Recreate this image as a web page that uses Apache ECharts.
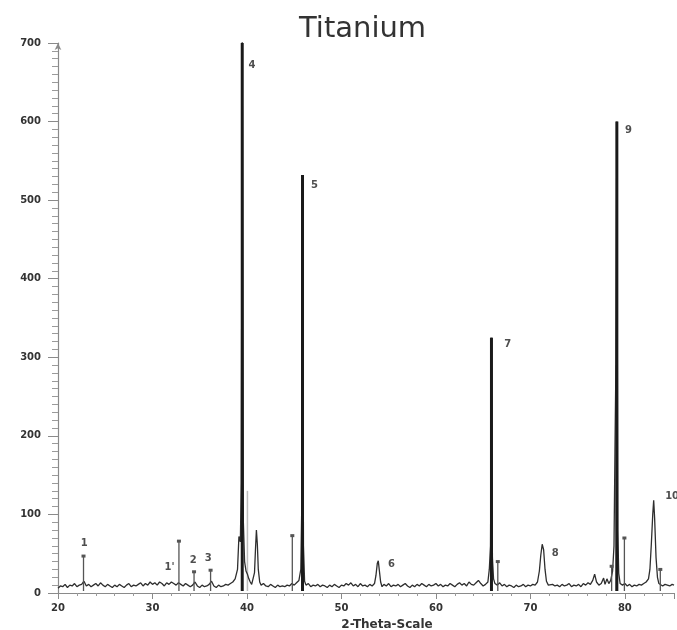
<!DOCTYPE html>
<html>
<head>
<meta charset="utf-8">
<script src="https://cdn.jsdelivr.net/npm/echarts@6/dist/echarts.min.js"></script>
<style>html,body{margin:0;padding:0;background:#fff}#c{width:677px;height:630px}</style>
</head>
<body>
<div id="c"></div>
<script>
// ---- data ----
const chartTitle = 'Titanium';
const xName = '2-Theta-Scale';
const xTicks = [20, 30, 40, 50, 60, 70, 80];
const yTicks = [0, 100, 200, 300, 400, 500, 600, 700];

// measured pattern: [2-theta, counts]
const pattern = [
[20.00,6],[20.25,9],[20.50,8],[20.75,11],[21.00,7],[21.25,10],[21.50,9],[21.75,12],[22.00,8],[22.25,10],
[22.50,11],[22.75,15],[23.00,9],[23.25,11],[23.50,8],[23.75,10],[24.00,12],[24.25,9],[24.50,13],[24.75,10],
[25.00,8],[25.25,11],[25.50,9],[25.75,7],[26.00,10],[26.25,8],[26.50,11],[26.75,9],[27.00,7],[27.25,10],
[27.50,12],[27.75,8],[28.00,10],[28.25,9],[28.50,11],[28.75,13],[29.00,9],[29.25,12],[29.50,10],[29.75,14],
[30.00,11],[30.25,13],[30.50,10],[30.75,14],[31.00,12],[31.25,9],[31.50,13],[31.75,11],[32.00,14],[32.25,12],
[32.50,10],[32.75,13],[33.00,11],[33.25,9],[33.50,12],[33.75,10],[34.00,8],[34.25,10],[34.50,14],[34.75,9],
[35.00,7],[35.25,10],[35.50,8],[35.75,9],[36.00,11],[36.25,15],[36.50,9],[36.75,7],[37.00,10],[37.25,8],
[37.50,9],[37.75,11],[38.00,10],[38.25,12],[38.50,14],[38.75,18],[39.00,30],[39.15,72],[39.30,65],[39.40,140],
[39.50,705],[39.62,90],[39.75,40],[39.90,28],[40.05,24],[40.20,18],[40.35,14],[40.50,11],[40.65,12],[40.80,26],
[40.90,55],[41.00,80],[41.10,62],[41.20,30],[41.35,14],[41.50,10],[41.75,12],[42.00,9],[42.25,8],[42.50,11],
[42.75,9],[43.00,7],[43.25,10],[43.50,8],[43.75,9],[44.00,8],[44.25,10],[44.50,9],[44.75,12],[45.00,10],
[45.25,13],[45.50,16],[45.70,30],[45.80,110],[45.88,532],[45.98,60],[46.10,15],[46.25,10],[46.50,12],[46.75,8],
[47.00,10],[47.25,9],[47.50,11],[47.75,8],[48.00,10],[48.25,9],[48.50,7],[48.75,10],[49.00,8],[49.25,11],
[49.50,9],[49.75,7],[50.00,10],[50.25,9],[50.50,12],[50.75,10],[51.00,13],[51.25,9],[51.50,11],[51.75,8],
[52.00,12],[52.25,9],[52.50,10],[52.75,8],[53.00,11],[53.25,9],[53.50,12],[53.65,22],[53.80,38],[53.90,41],
[54.00,30],[54.15,14],[54.30,8],[54.50,11],[54.75,9],[55.00,12],[55.25,8],[55.50,10],[55.75,9],[56.00,11],
[56.25,8],[56.50,10],[56.75,12],[57.00,9],[57.25,7],[57.50,10],[57.75,8],[58.00,11],[58.25,9],[58.50,12],
[58.75,10],[59.00,8],[59.25,11],[59.50,9],[59.75,10],[60.00,12],[60.25,9],[60.50,11],[60.75,8],[61.00,10],
[61.25,9],[61.50,12],[61.75,10],[62.00,8],[62.25,11],[62.50,13],[62.75,10],[63.00,12],[63.25,9],[63.50,14],
[63.75,11],[64.00,10],[64.25,13],[64.50,16],[64.75,12],[65.00,9],[65.25,11],[65.50,14],[65.65,30],[65.78,60],
[65.88,325],[65.98,45],[66.10,18],[66.25,12],[66.50,10],[66.75,13],[67.00,9],[67.25,11],[67.50,8],[67.75,10],
[68.00,9],[68.25,7],[68.50,10],[68.75,8],[69.00,9],[69.25,11],[69.50,8],[69.75,10],[70.00,9],[70.25,11],
[70.50,10],[70.75,14],[70.95,28],[71.10,48],[71.25,62],[71.40,55],[71.55,30],[71.70,15],[71.90,10],[72.10,8],
[72.35,11],[72.60,9],[72.85,10],[73.10,8],[73.35,11],[73.60,9],[73.85,10],[74.10,12],[74.35,8],[74.60,10],
[74.85,9],[75.10,11],[75.35,8],[75.60,12],[75.85,10],[76.10,13],[76.35,11],[76.60,16],[76.80,24],[77.00,14],
[77.25,10],[77.50,12],[77.75,19],[77.90,11],[78.10,18],[78.30,12],[78.50,16],[78.70,28],[78.85,60],[78.95,180],
[79.05,290],[79.15,600],[79.25,80],[79.35,25],[79.50,12],[79.75,10],[80.00,12],[80.25,9],[80.50,11],[80.75,8],
[81.00,10],[81.25,9],[81.50,11],[81.75,10],[82.00,12],[82.25,14],[82.50,18],[82.65,30],[82.80,62],[82.95,100],
[83.05,118],[83.15,95],[83.30,45],[83.45,20],[83.60,12],[83.80,10],[84.00,9],[84.25,11],[84.50,10],[84.75,9],
[85.00,11],[85.20,10]
];

// strong reflections drawn as heavy sticks
const majorPeaks = [[39.5, 700], [45.88, 532], [65.88, 325], [79.15, 600]];
// reference (database) sticks
const refSticks = [[22.7, 47], [32.8, 66], [34.4, 27], [36.15, 29], [44.8, 73], [66.55, 40], [78.6, 34], [79.95, 70], [83.75, 30]];
const faintSticks = [[40.05, 130], [79.05, 290]];

// peak labels and the data point each sits at
const peakNames = ['1', "1'", '2', '3', '4', '5', '6', '7', '8', '9', '10'];
const peakLabelAt = [[22.78, 63], [31.8, 32], [34.31, 42], [35.9, 44], [40.54, 672], [47.14, 519], [55.3, 37], [67.6, 317], [72.64, 51], [80.37, 589], [85.0, 123]];

// ---- chart ----
const chart = echarts.init(document.getElementById('c'), null, {renderer: 'canvas'});
const FONT = '"DejaVu Sans", Verdana, sans-serif';

function stickRender(width, color, marker) {
  return function (params, api) {
    const top = api.coord([api.value(0), api.value(1)]);
    const bot = api.coord([api.value(0), 0]);
    const children = [{
      type: 'line',
      shape: {x1: top[0], y1: top[1], x2: bot[0], y2: bot[1] - 2},
      style: {stroke: color, lineWidth: width}
    }];
    if (marker) {
      children.push({type: 'rect', shape: {x: top[0] - 2, y: top[1] - 1.5, width: 4, height: 3}, style: {fill: color}});
    }
    return {type: 'group', children: children};
  };
}

const option = {
  animation: false,
  backgroundColor: '#fff',
  grid: {left: 58, right: 0, top: 43, bottom: 37, containLabel: false},
  xAxis: {
    type: 'value', min: 20, max: 85.2, interval: 10,
    axisLine: {show: true, lineStyle: {color: '#8a8a8a', width: 1.2}},
    axisTick: {show: true, length: 6, lineStyle: {color: '#8a8a8a'}},
    minorTick: {show: true, splitNumber: 5, length: 3, lineStyle: {color: '#9a9a9a'}},
    splitLine: {show: false},
    axisLabel: {
      margin: 10, color: '#333', fontFamily: FONT, fontWeight: 'bold', fontSize: 10,
      formatter: function (v) { return xTicks.indexOf(v) >= 0 ? String(v) : ''; }
    }
  },
  yAxis: {
    type: 'value', min: 0, max: 700, interval: 100,
    axisLine: {show: true, lineStyle: {color: '#8a8a8a', width: 1.2}, symbol: ['none', 'arrow'], symbolSize: [5, 7]},
    axisTick: {show: true, length: 10, lineStyle: {color: '#8a8a8a'}},
    minorTick: {show: true, splitNumber: 10, length: 6, lineStyle: {color: '#9a9a9a'}},
    splitLine: {show: false},
    axisLabel: {
      margin: 17, color: '#333', fontFamily: FONT, fontWeight: 'bold', fontSize: 10,
      formatter: function (v) { return yTicks.indexOf(v) >= 0 ? String(v) : ''; }
    }
  },
  graphic: [
    {type: 'text', left: 299, top: 15, style: {text: chartTitle, font: '29px ' + FONT, fill: '#333'}},
    {type: 'text', x: 387, y: 625, style: {text: xName, font: 'bold 12px ' + FONT, fill: '#333', textAlign: 'center', textVerticalAlign: 'middle'}}
  ],
  series: [
    {
      type: 'custom', name: 'faint', data: faintSticks, clip: true, z: 1,
      renderItem: stickRender(1.5, '#bdbdbd', false)
    },
    {
      type: 'line', name: 'pattern', data: pattern, showSymbol: false, symbol: 'none', clip: true, z: 2,
      lineStyle: {color: '#2e2e2e', width: 1.3}
    },
    {
      type: 'custom', name: 'ref', data: refSticks, clip: true, z: 3,
      renderItem: stickRender(1.3, '#555', true)
    },
    {
      type: 'custom', name: 'major', data: majorPeaks, clip: true, z: 4,
      renderItem: stickRender(3, '#1a1a1a', false)
    },
    {
      type: 'scatter', name: 'labels', z: 5, symbolSize: 0, clip: false,
      data: peakLabelAt.map(function (p, i) { return {name: peakNames[i], value: p}; }),
      label: {show: true, position: 'inside', formatter: '{b}', color: '#222', fontFamily: FONT, fontWeight: 'bold', fontSize: 10}
    }
  ]
};
chart.setOption(option);
</script>
</body>
</html>
